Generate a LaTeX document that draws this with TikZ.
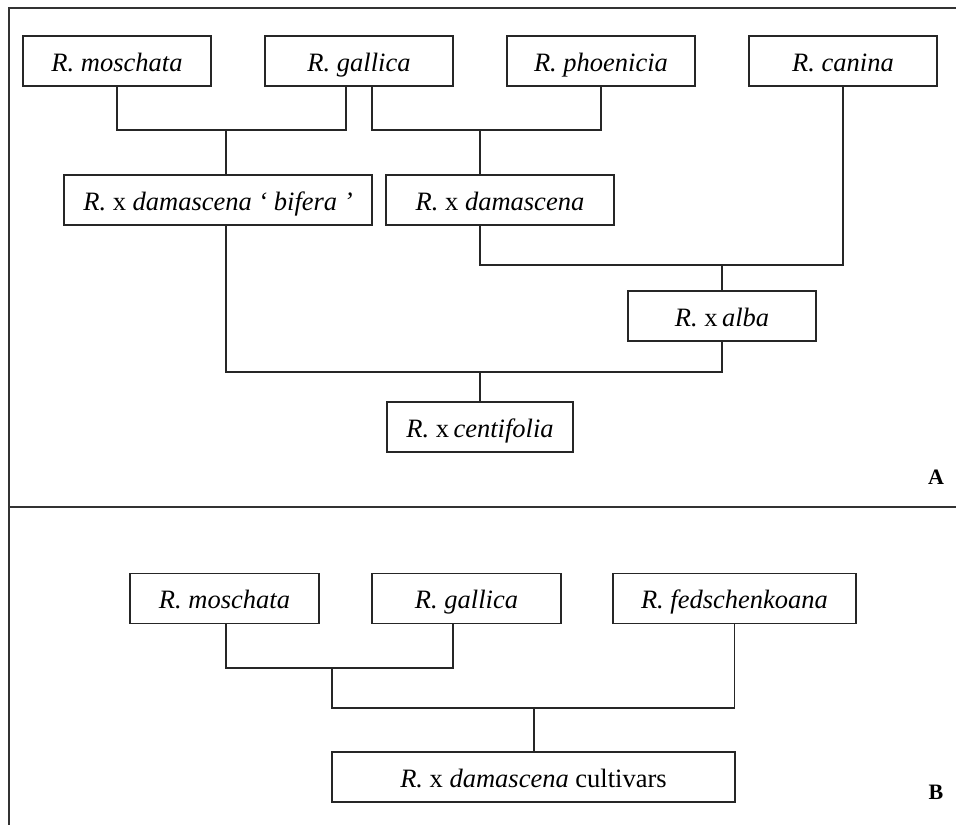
\documentclass[tikz,border=0pt]{standalone}
\usepackage{fontspec}
\setmainfont{Liberation Serif}
\begin{document}
\begin{tikzpicture}[x=1pt,y=-1pt,
  box/.style={draw=black!85,line width=1.4pt,rectangle,minimum height=50pt,inner sep=0pt,text height=20pt,text depth=0pt,font=\fontsize{26.5}{30}\selectfont},
  conn/.style={draw=black!85,line width=1.2pt},
  frame/.style={draw=black!80,line width=1.6pt},
  panel/.style={font=\fontsize{22}{24}\selectfont\bfseries}]
\useasboundingbox (0,0) rectangle (956,825);
% frame
\draw[frame] (956,8) -- (9,8) -- (9,825);
\draw[frame] (9,507) -- (956,507);
% panel A nodes
\node[box,minimum width=188pt] (mos) at (117,61) {\textit{R. moschata}};
\node[box,minimum width=188pt] (gal) at (359,61) {\textit{R. gallica}};
\node[box,minimum width=188pt] (pho) at (601,61) {\textit{R. phoenicia}};
\node[box,minimum width=188pt] (can) at (843,61) {\textit{R. canina}};
\node[box,minimum width=308pt] (bif) at (218,200) {\textit{R.} x \textit{damascena ‘ bifera ’}};
\node[box,minimum width=228pt] (dam) at (500,200) {\textit{R.} x \textit{damascena}};
\node[box,minimum width=188pt] (alb) at (722,316) {\textit{R.} x\,\textit{alba}};
\node[box,minimum width=186pt] (cen) at (480,427) {\textit{R.} x\,\textit{centifolia}};
\node[panel] (A) at (936,477) {A};
% panel A junctions
\coordinate (j1) at (226,130);
\coordinate (j2) at (480,130);
\coordinate (j3) at (722,265);
\coordinate (j4) at (480,372);
\draw[conn] (mos.south) |- (j1) -| ([xshift=-13pt]gal.south);
\draw[conn] (j1) -- (j1 |- bif.north);
\draw[conn] ([xshift=13pt]gal.south) |- (j2) -| (pho.south);
\draw[conn] (j2) -- (j2 |- dam.north);
\draw[conn] (dam.south -| j2) |- (j3) -| (can.south);
\draw[conn] (j3) -- (alb.north);
\draw[conn] (bif.south -| j1) |- (j4) -| (alb.south);
\draw[conn] (j4) -- (cen.north);
% panel B nodes
\node[box,minimum width=189pt] (mosb) at (224.5,598.5) {\textit{R. moschata}};
\node[box,minimum width=189pt] (galb) at (466.5,598.5) {\textit{R. gallica}};
\node[box,minimum width=243pt] (fed) at (734.5,598.5) {\textit{R. fedschenkoana}};
\node[box,minimum width=403pt] (cult) at (533.5,777) {\textit{R.} x \textit{damascena} cultivars};
\node[panel] (B) at (936,792) {B};
\coordinate (k1) at (332,668);
\coordinate (k2) at (534,708);
\draw[conn] ([xshift=1.5pt]mosb.south) |- (k1) -| ([xshift=-13.5pt]galb.south);
\draw[conn] (k1) |- (k2) -| (fed.south);
\draw[conn] (k2) -- (k2 |- cult.north);
\end{tikzpicture}
\end{document}
